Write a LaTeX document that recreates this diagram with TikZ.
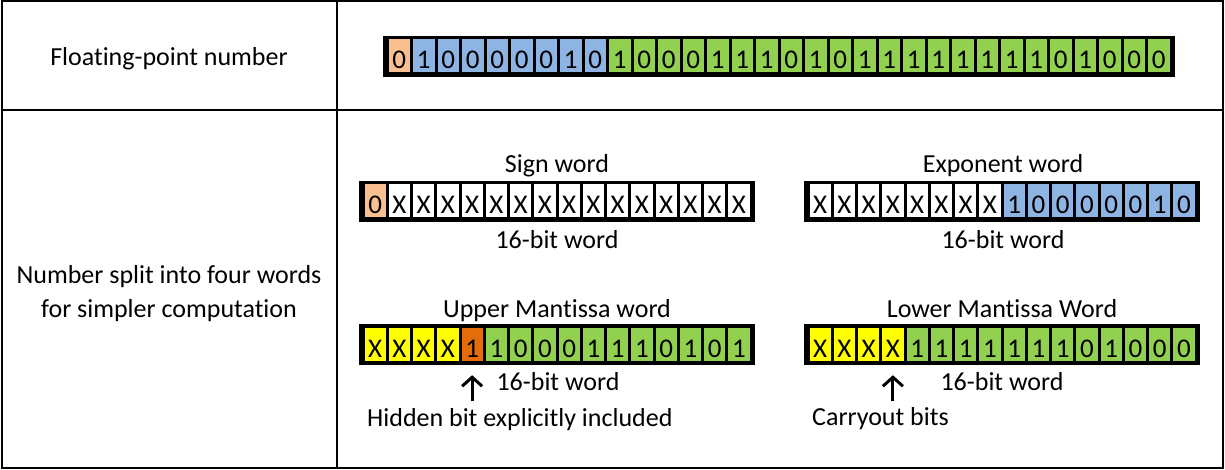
\documentclass[tikz,border=0pt]{standalone}
\usepackage{fontspec}
\setmainfont{Carlito}[Ligatures=NoCommon]
\usetikzlibrary{arrows.meta}

\definecolor{signfill}{HTML}{FABF8F}
\definecolor{expfill}{HTML}{8DB4E2}
\definecolor{mantfill}{HTML}{92D050}
\definecolor{carryfill}{HTML}{FFFF00}
\definecolor{hiddenfill}{HTML}{E46C0A}

\tikzset{
  grid/.style={line width=2pt, draw=black},
  label/.style={inner sep=0pt, font=\fontsize{26pt}{34pt}\selectfont},
  wordframe/.style={fill=black, draw=none, inner sep=0pt, minimum height=41pt},
  bitcell/.style={fill=#1, draw=none, inner sep=0pt, minimum height=33pt,
    text height=25pt, text depth=0pt, font=\fontsize{27pt}{32pt}\selectfont},
  pointer/.style={line width=3pt, -{Straight Barb[length=9pt,width=20pt]}},
}

% #1 name, #2 left x, #3 top y, #4 cell pitch, #5 cell count, #6 colour/bit list
\newcommand{\drawword}[6]{%
  \node[wordframe, minimum width={#5*#4+8}, anchor=north west] (#1) at (#2,#3) {};
  \foreach \c/\t [count=\i] in {#6} {
    \node[bitcell=\c, minimum width={#4-3}] (#1-\i) at ({#2+4+(\i-0.5)*#4},{#3+20.5}) {\t};
  }%
}

\begin{document}
\begin{tikzpicture}[x=1pt,y=-1pt]
  \useasboundingbox (0,0) rectangle (1225,470);

  % table grid
  \draw[grid] (1.5,1.5) rectangle (1222.5,468);
  \draw[grid] (337,1.5) -- (337,468);
  \draw[grid] (1.5,110) -- (1222.5,110);

  % row headings
  \node[label, anchor=base] (head-fp) at (169,66) {Floating-point number};
  \node[label, anchor=base] (head-split1) at (169,283) {Number split into four words};
  \node[label, anchor=base] (head-split2) at (169,317) {for simpler computation};

  % full 32-bit number
  \drawword{fp}{383}{35.5}{24.5}{32}{signfill/0,
    expfill/1,expfill/0,expfill/0,expfill/0,expfill/0,expfill/0,expfill/1,expfill/0,
    mantfill/1,mantfill/0,mantfill/0,mantfill/0,mantfill/1,mantfill/1,mantfill/1,mantfill/0,
    mantfill/1,mantfill/0,mantfill/1,mantfill/1,mantfill/1,mantfill/1,mantfill/1,mantfill/1,
    mantfill/1,mantfill/1,mantfill/0,mantfill/1,mantfill/0,mantfill/0,mantfill/0}

  % sign word
  \node[label, anchor=base] (sign-title) at (557,173) {Sign word};
  \drawword{sign}{359}{180.5}{24.25}{16}{signfill/0,
    white/X,white/X,white/X,white/X,white/X,white/X,white/X,white/X,
    white/X,white/X,white/X,white/X,white/X,white/X,white/X}
  \node[label, anchor=base] (sign-size) at (557,248) {16-bit word};

  % exponent word
  \node[label, anchor=base] (exp-title) at (1003,173) {Exponent word};
  \drawword{exp}{804}{180.5}{24.25}{16}{white/X,white/X,white/X,white/X,
    white/X,white/X,white/X,white/X,
    expfill/1,expfill/0,expfill/0,expfill/0,expfill/0,expfill/0,expfill/1,expfill/0}
  \node[label, anchor=base] (exp-size) at (1003,248) {16-bit word};

  % upper mantissa word
  \node[label, anchor=base] (up-title) at (557,317) {Upper Mantissa word};
  \drawword{up}{359}{324}{24.25}{16}{carryfill/X,carryfill/X,carryfill/X,carryfill/X,
    hiddenfill/1,
    mantfill/1,mantfill/0,mantfill/0,mantfill/0,mantfill/1,mantfill/1,mantfill/1,
    mantfill/0,mantfill/1,mantfill/0,mantfill/1}
  \node[label, anchor=base] (up-size) at (558,390) {16-bit word};
  \node[label, anchor=base west] (hidden-note) at (367,426.5) {Hidden bit explicitly included};
  \coordinate (hidden-tail) at ([yshift=-40pt]up-5.south);
  \draw[pointer, shorten >=14pt] (hidden-tail) -- (up-5.south);

  % lower mantissa word
  \node[label, anchor=base] (low-title) at (1002,317) {Lower Mantissa Word};
  \drawword{low}{804}{324}{24.25}{16}{carryfill/X,carryfill/X,carryfill/X,carryfill/X,
    mantfill/1,mantfill/1,mantfill/1,mantfill/1,mantfill/1,mantfill/1,mantfill/1,
    mantfill/0,mantfill/1,mantfill/0,mantfill/0,mantfill/0}
  \node[label, anchor=base] (low-size) at (1002,390) {16-bit word};
  \node[label, anchor=base west] (carry-note) at (812,425) {Carryout bits};
  \coordinate (carry-tail) at ([yshift=-40pt]low-4.south);
  \draw[pointer, shorten >=14pt] (carry-tail) -- (low-4.south);
\end{tikzpicture}
\end{document}
